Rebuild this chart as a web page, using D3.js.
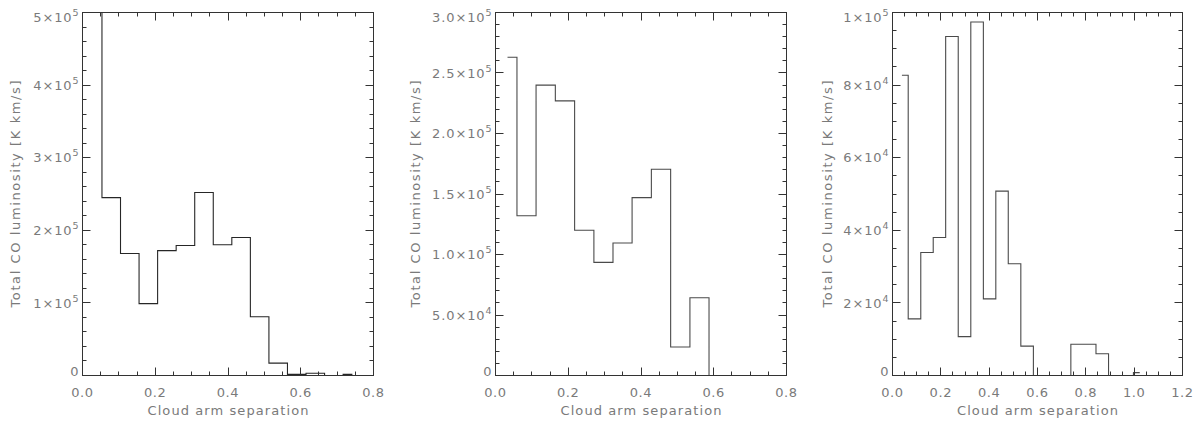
<!DOCTYPE html>
<html>
<head>
<meta charset="utf-8">
<script src="https://cdn.jsdelivr.net/npm/d3@7"></script>
<style>
  html, body { margin: 0; padding: 0; background: #fff; }
  svg { display: block; }
  text { font-family: "DejaVu Sans", "Liberation Sans", sans-serif; fill: #7a7a7a; }
</style>
</head>
<body>
<svg id="chart" width="1200" height="422"></svg>
<script>
// ---------------- DATA ----------------
// Panel 1
const p1Centers = [0.028, 0.079, 0.130, 0.181, 0.232, 0.283, 0.334, 0.385, 0.436, 0.487, 0.538, 0.589, 0.640, 0.691, 0.742];
const p1Values  = [5.0e5, 2.45e5, 1.68e5, 0.99e5, 1.72e5, 1.79e5, 2.52e5, 1.80e5, 1.90e5, 0.81e5, 0.17e5, 0.015e5, 0.03e5, 0, 0.015e5];
const p1XTicks  = [0, 0.2, 0.4, 0.6, 0.8];
const p1XLabels = ["0.0", "0.2", "0.4", "0.6", "0.8"];
const p1YTicks  = [0, 1e5, 2e5, 3e5, 4e5, 5e5];
const p1YLabels = ["0", "1×10^5", "2×10^5", "3×10^5", "4×10^5", "5×10^5"];

// Panel 2
const p2Centers = [0.033, 0.085, 0.138, 0.191, 0.244, 0.297, 0.349, 0.402, 0.455, 0.508, 0.561, 0.613, 0.666, 0.719, 0.772];
const p2Values  = [2.63e5, 1.32e5, 2.40e5, 2.27e5, 1.20e5, 0.935e5, 1.095e5, 1.47e5, 1.705e5, 0.235e5, 0.643e5, 0, 0, 0, 0];
const p2XTicks  = [0, 0.2, 0.4, 0.6, 0.8];
const p2XLabels = ["0.0", "0.2", "0.4", "0.6", "0.8"];
const p2YTicks  = [0, 5e4, 1e5, 1.5e5, 2e5, 2.5e5, 3e5];
const p2YLabels = ["0", "5.0×10^4", "1.0×10^5", "1.5×10^5", "2.0×10^5", "2.5×10^5", "3.0×10^5"];

// Panel 3
const p3Centers = [0.039, 0.091, 0.143, 0.194, 0.246, 0.298, 0.350, 0.402, 0.453, 0.505, 0.557, 0.609, 0.661, 0.712, 0.764, 0.816, 0.868, 0.920, 0.971, 1.023];
const p3Values  = [8.27e4, 1.56e4, 3.39e4, 3.80e4, 9.34e4, 1.07e4, 9.74e4, 2.11e4, 5.08e4, 3.08e4, 0.81e4, 0, 0, 0, 0.86e4, 0.86e4, 0.60e4, 0, 0, 0.08e4];
const p3XTicks  = [0, 0.2, 0.4, 0.6, 0.8, 1.0, 1.2];
const p3XLabels = ["0.0", "0.2", "0.4", "0.6", "0.8", "1.0", "1.2"];
const p3YTicks  = [0, 2e4, 4e4, 6e4, 8e4, 1e5];
const p3YLabels = ["0", "2×10^4", "4×10^4", "6×10^4", "8×10^4", "1×10^5"];

const xTitle = "Cloud arm separation";
const yTitle = "Total CO luminosity [K km/s]";

// ---------------- LAYOUT ----------------
const panels = [
  { left: 82.5,  right: 373.5,  xMax: 0.8, xMinor: 0.05, yMax: 5e5, yMinor: 2e4,
    centers: p1Centers, values: p1Values, xTicks: p1XTicks, xLabels: p1XLabels,
    yTicks: p1YTicks, yLabels: p1YLabels, yTitleX: 19.5, lineColor: "#262626" },
  { left: 495.5, right: 786.5,  xMax: 0.8, xMinor: 0.05, yMax: 3e5, yMinor: 1e4,
    centers: p2Centers, values: p2Values, xTicks: p2XTicks, xLabels: p2XLabels,
    yTicks: p2YTicks, yLabels: p2YLabels, yTitleX: 419.5, lineColor: "#4a4a4a" },
  { left: 892.5, right: 1182.5, xMax: 1.2, xMinor: 0.05, yMax: 1e5, yMinor: 5e3,
    centers: p3Centers, values: p3Values, xTicks: p3XTicks, xLabels: p3XLabels,
    yTicks: p3YTicks, yLabels: p3YLabels, yTitleX: 831.5, lineColor: "#4a4a4a" }
];
const TOP = 12.5, BOTTOM = 375.5;
const MAJ = 8, MIN = 4;
const frameColor = "#333";

const svg = d3.select("#chart");

function addLabel(textSel, label) {
  const parts = label.split("^");
  textSel.append("tspan").text(parts[0]);
  if (parts.length > 1) {
    textSel.append("tspan").attr("font-size", 9.5).attr("dy", -6).text(parts[1]);
  }
}

panels.forEach((p, idx) => {
  const x = d3.scaleLinear().domain([0, p.xMax]).range([p.left, p.right]);
  const y = d3.scaleLinear().domain([0, p.yMax]).range([BOTTOM, TOP]);
  const g = svg.append("g");

  const clipId = "clip" + idx;
  svg.append("clipPath").attr("id", clipId).append("rect")
    .attr("x", p.left).attr("y", TOP - 1).attr("width", p.right - p.left).attr("height", BOTTOM - TOP + 1);

  // histogram (IDL psym=10 style step)
  const line = d3.line().x((d, i) => x(p.centers[i])).y(d => y(d)).curve(d3.curveStep);
  g.append("path")
    .attr("d", line(p.values))
    .attr("fill", "none")
    .attr("stroke", p.lineColor)
    .attr("stroke-width", 1.1)
    .attr("clip-path", `url(#${clipId})`);

  // minor ticks
  const eps = 1e-9;
  const xMinorVals = d3.range(0, p.xMax + eps, p.xMinor).filter(v => !p.xTicks.some(t => Math.abs(t - v) < 1e-6));
  const yMinorVals = d3.range(0, p.yMax + 1, p.yMinor).filter(v => !p.yTicks.some(t => Math.abs(t - v) < 1));

  const tickG = g.append("g").attr("stroke", frameColor).attr("stroke-width", 1);
  const xt = (vals, len) => vals.forEach(v => {
    const xx = Math.round(x(v) - 0.5) + 0.5;
    tickG.append("line").attr("x1", xx).attr("x2", xx).attr("y1", BOTTOM).attr("y2", BOTTOM - len);
    tickG.append("line").attr("x1", xx).attr("x2", xx).attr("y1", TOP).attr("y2", TOP + len);
  });
  const yt = (vals, len) => vals.forEach(v => {
    const yy = Math.round(y(v) - 0.5) + 0.5;
    tickG.append("line").attr("y1", yy).attr("y2", yy).attr("x1", p.left).attr("x2", p.left + len);
    tickG.append("line").attr("y1", yy).attr("y2", yy).attr("x1", p.right).attr("x2", p.right - len);
  });
  xt(xMinorVals, MIN); xt(p.xTicks, MAJ);
  yt(yMinorVals, MIN); yt(p.yTicks, MAJ);

  // frame
  g.append("rect")
    .attr("x", p.left).attr("y", TOP)
    .attr("width", p.right - p.left).attr("height", BOTTOM - TOP)
    .attr("fill", "none").attr("stroke", frameColor).attr("stroke-width", 1);

  // x tick labels
  p.xTicks.forEach((v, i) => {
    g.append("text")
      .attr("x", x(v)).attr("y", 397)
      .attr("text-anchor", "middle")
      .attr("font-size", 13).attr("letter-spacing", 0.6)
      .text(p.xLabels[i]);
  });

  // y tick labels
  p.yTicks.forEach((v, i) => {
    const cy = Math.max(TOP + 5, Math.min(BOTTOM - 4.5, y(v)));
    const t = g.append("text")
      .attr("x", p.left - 3).attr("y", cy + 4.7)
      .attr("text-anchor", "end")
      .attr("font-size", 13).attr("letter-spacing", 0.9);
    addLabel(t, p.yLabels[i]);
  });

  // axis titles
  g.append("text")
    .attr("x", (p.left + p.right) / 2).attr("y", 415)
    .attr("text-anchor", "middle")
    .attr("font-size", 13)
    .attr("textLength", 161).attr("lengthAdjust", "spacing")
    .text(xTitle);

  g.append("text")
    .attr("transform", `translate(${p.yTitleX},${(TOP + BOTTOM) / 2}) rotate(-90)`)
    .attr("text-anchor", "middle")
    .attr("font-size", 13)
    .attr("textLength", 227).attr("lengthAdjust", "spacing")
    .text(yTitle);
});
</script>
</body>
</html>
